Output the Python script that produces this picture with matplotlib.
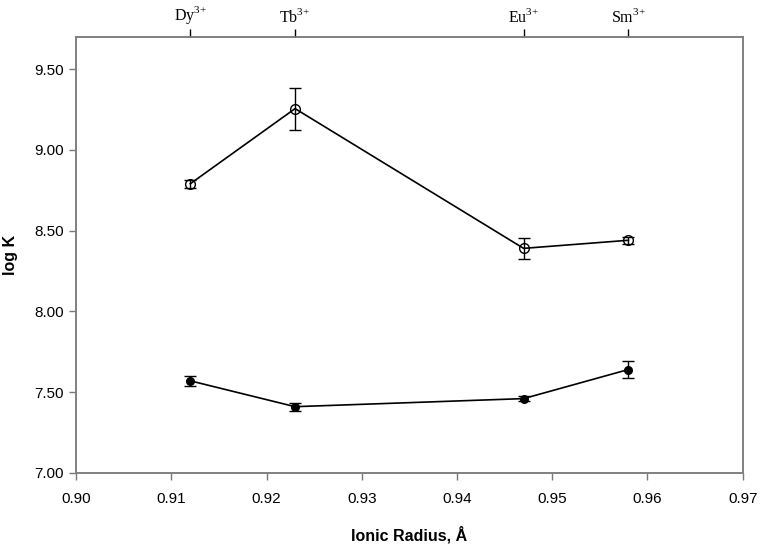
import matplotlib
matplotlib.use("Agg")
import matplotlib.pyplot as plt

# ionic radius (Angstrom) for each lanthanide ion
ions = ["Dy$^{\\mathrm{3{+}}}$", "Tb$^{\\mathrm{3{+}}}$",
        "Eu$^{\\mathrm{3{+}}}$", "Sm$^{\\mathrm{3{+}}}$"]
radius = [0.912, 0.923, 0.947, 0.958]

# upper series (open circles)
logk_open = [8.79, 9.255, 8.39, 8.44]
err_open = [0.025, 0.13, 0.065, 0.02]

# lower series (filled circles)
logk_filled = [7.57, 7.41, 7.46, 7.64]
err_filled = [0.03, 0.025, 0.015, 0.05]

plt.rcParams['font.family'] = ['Liberation Sans', 'DejaVu Sans']
plt.rcParams['mathtext.fontset'] = 'custom'
plt.rcParams['mathtext.rm'] = 'Liberation Serif'

fig = plt.figure(figsize=(7.76, 5.48), dpi=100)
ax = fig.add_axes([0.098, 0.137, 0.859, 0.796])

ax.errorbar(radius, logk_open, yerr=err_open, color='black', lw=1.2,
            marker='o', markersize=7, markerfacecolor='none',
            markeredgecolor='black', markeredgewidth=1.0,
            ecolor='black', elinewidth=1.0, capsize=4, capthick=1.0)
ax.errorbar(radius, logk_filled, yerr=err_filled, color='black', lw=1.2,
            marker='o', markersize=5.5, markerfacecolor='black',
            markeredgecolor='black',
            ecolor='black', elinewidth=1.0, capsize=4, capthick=1.0)

ax.set_xlim(0.90, 0.97)
ax.set_ylim(7.0, 9.70)
ax.set_xticks([0.90, 0.91, 0.92, 0.93, 0.94, 0.95, 0.96, 0.97])
ax.set_xticklabels(["%.2f" % v for v in ax.get_xticks()])
ax.set_yticks([7.0, 7.5, 8.0, 8.5, 9.0, 9.5])
ax.set_yticklabels(["%.2f" % v for v in ax.get_yticks()])
ax.tick_params(axis='both', labelsize=11, color='#777777', length=5, width=1)
ax.tick_params(axis='x', pad=9)
for s in ax.spines.values():
    s.set_color('#808080')
    s.set_linewidth(1.2)

ax.set_xlabel("Ionic Radius, Å", fontsize=11.5, fontweight='bold', labelpad=14)
ax.set_ylabel("log K", fontsize=11.5, fontweight='bold', labelpad=12)

top = ax.twiny()
top.set_xlim(ax.get_xlim())
top.set_xticks(radius)
top.set_xticklabels(ions, fontsize=11.5, family=['Liberation Serif', 'DejaVu Serif'])
top.tick_params(axis='x', color='black', length=6, width=1, pad=2)
for s in top.spines.values():
    s.set_color('#808080')
    s.set_linewidth(1.2)

fig.savefig("out.png", dpi=100)
